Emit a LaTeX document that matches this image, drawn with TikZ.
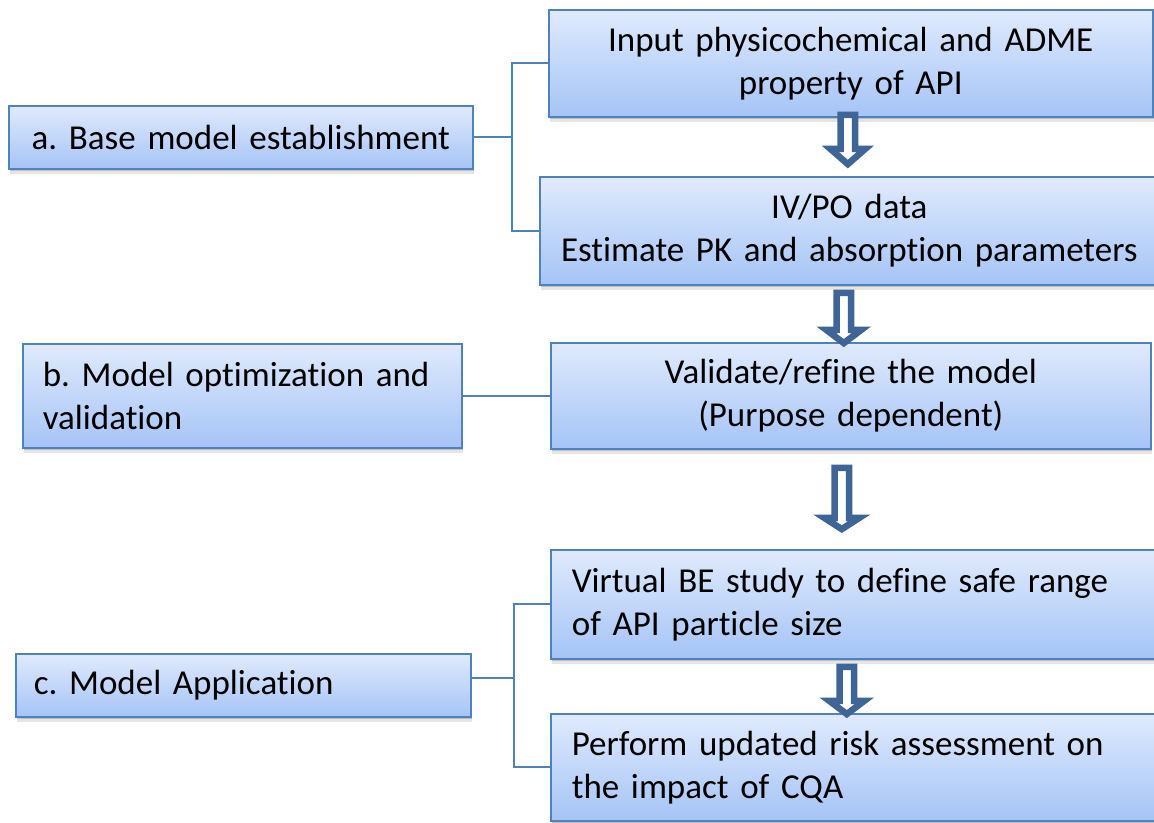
\documentclass[tikz,border=0pt]{standalone}
\usepackage{fontspec}
\setmainfont{Carlito}[Ligatures=NoCommon]
\usetikzlibrary{shadows,calc}

\definecolor{boxline}{HTML}{4F81BD}
\definecolor{boxtop}{HTML}{E0EAFC}
\definecolor{boxbot}{HTML}{A5C4F6}
\definecolor{arrowblue}{HTML}{3F6496}

\pgfdeclarelayer{background}
\pgfsetlayers{background,main}

% box text
\DeclareRobustCommand\stagefont{\fontsize{35}{43}\selectfont\frenchspacing}

\tikzset{
  stage/.style={draw=boxline, line width=1.6pt, top color=boxtop, bottom color=boxbot,
    anchor=north west, inner ysep=0pt, font=\stagefont,
    general shadow={shadow xshift=1pt, shadow yshift=-2.5pt, fill=black, opacity=.16},
    general shadow={shadow xshift=1.5pt, shadow yshift=-5pt, fill=black, opacity=.10}},
  centred/.style={align=center, inner xsep=10pt},
  ragged/.style={align=left, inner xsep=#1},
  boxsize/.style 2 args={minimum width=#1, minimum height=#2},
  link/.style={draw=boxline, line width=1.8pt},
  arrowshape/.style={draw=arrowblue, fill=white, line width=6.5pt, line join=miter},
  pics/hollowdown/.style 2 args={code={
    \draw[arrowshape] (-7.25,3.25) -- (-7.25,#1) -- (-17.5,#1) -- (0,#2)
      -- (17.5,#1) -- (7.25,#1) -- (7.25,3.25) -- cycle;}}
}

\begin{document}
\begin{tikzpicture}[x=1pt, y=-1pt]
\useasboundingbox (0,0) rectangle (1154,822);

% process steps (right column)
\node[stage, centred, boxsize={604pt}{107pt}, text width=584pt] (b1) at (548,9)
  {Input physicochemical and ADME\\property of API};
\node[stage, centred, boxsize={619pt}{108pt}, text width=599pt] (b2) at (539,176)
  {IV/PO data\\Estimate PK and absorption parameters};
\node[stage, centred, boxsize={600pt}{106pt}, text width=580pt] (v) at (550,342)
  {Validate/refine the model\\(Purpose dependent)};
\node[stage, ragged=21pt, boxsize={606pt}{109pt}, text width=564pt] (vbe) at (550,549)
  {Virtual BE study to define safe range\\of API particle size};
\node[stage, ragged=21pt, boxsize={606pt}{107pt}, text width=564pt] (p) at (550,713)
  {Perform updated risk assessment on\\the impact of CQA};

% phases (left column)
\node[stage, centred, boxsize={464pt}{63pt}, text width=444pt] (a) at (8,105)
  {a. Base model establishment};
\node[stage, ragged=20pt, boxsize={439pt}{104pt}, text width=399pt] (bb) at (22,343)
  {b. Model optimization and\\validation};
\node[stage, ragged=18pt, boxsize={455pt}{63pt}, text width=419pt] (c) at (15,653)
  {c. Model Application};

% brackets joining phases to their steps
\coordinate (ja) at (512,0);
\coordinate (jc) at (514,0);
\begin{pgfonlayer}{background}
  \draw[link] (a.east) -- (a.east -| ja);
  \draw[link] (b1.west) -- (b1.west -| ja) -- (b2.west -| ja) -- (b2.west);
  \draw[link] (bb.east) -- (v.west);
  \draw[link] ([yshift=7pt]c.east) -- ([yshift=7pt]c.east -| jc);
  \draw[link] (vbe.west) -- (vbe.west -| jc) -- (p.west -| jc) -- (p.west);
\end{pgfonlayer}

% hollow flow arrows between steps
\path (b1.south) ++(-3,-6) pic {hollowdown={37.25}{52.5}};
\path (b2.south) ++(-5.5,4) pic {hollowdown={40.25}{53.5}};
\path (v.south) ++(-9,15) pic {hollowdown={53.25}{64.5}};
\path (vbe.south) ++(-7,4) pic {hollowdown={37.25}{50.5}};
\end{tikzpicture}
\end{document}
